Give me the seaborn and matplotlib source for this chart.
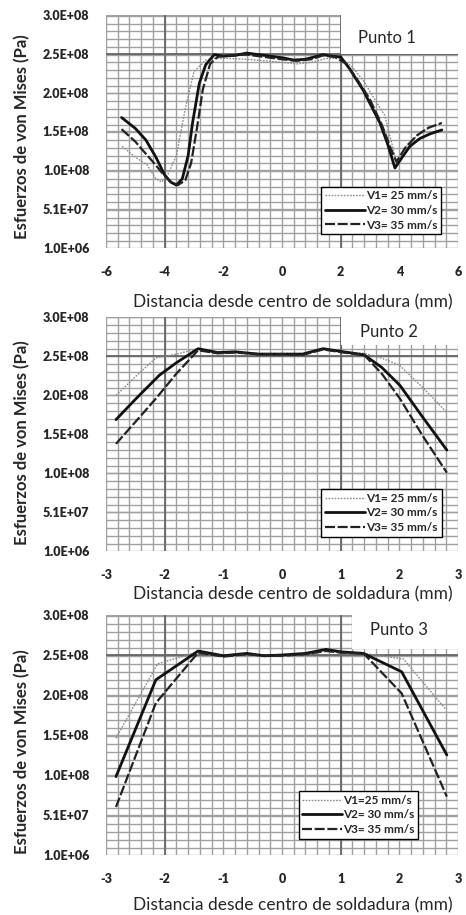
import numpy as np
import pandas as pd
import matplotlib
matplotlib.use("Agg")
import matplotlib.pyplot as plt
from matplotlib.ticker import MultipleLocator, FuncFormatter
from matplotlib.patches import Rectangle
import seaborn as sns

sns.set_style("white")
plt.rcParams["font.family"] = ["Lato", "DejaVu Sans"]
plt.rcParams["axes.unicode_minus"] = False

SERIES = ["V1", "V2", "V3"]

# ---- Punto 1 (Pa) ----
p1_v1_x = [-5.45, -5.0, -4.6, -4.3, -4.1, -3.9, -3.6, -3.3, -3.0, -2.6, -2.3, -1.8, -1.2, -0.6,
           0.0, 0.5, 1.0, 1.5, 2.0, 2.4, 2.8, 3.2, 3.5, 3.9, 4.3, 4.8, 5.45]
p1_v1_y = [1.32e8, 1.18e8, 1.08e8, 0.90e8, 0.86e8, 0.95e8, 1.20e8, 1.80e8, 2.28e8, 2.43e8, 2.45e8,
           2.45e8, 2.44e8, 2.42e8, 2.40e8, 2.38e8, 2.40e8, 2.45e8, 2.45e8, 2.34e8, 2.15e8, 1.90e8,
           1.72e8, 1.12e8, 1.35e8, 1.52e8, 1.62e8]
p1_v2_x = [-5.47, -5.0, -4.64, -4.3, -4.0, -3.8, -3.6, -3.4, -3.2, -3.05, -2.82, -2.6, -2.31, -2.0,
           -1.6, -1.2, -0.8, -0.4, 0.0, 0.4, 0.8, 1.1, 1.4, 1.7, 2.0, 2.3, 2.77, 3.34, 3.6, 3.85,
           4.1, 4.36, 4.7, 5.05, 5.45]
p1_v2_y = [1.69e8, 1.55e8, 1.40e8, 1.18e8, 0.95e8, 0.86e8, 0.82e8, 0.90e8, 1.20e8, 1.62e8, 2.13e8,
           2.37e8, 2.50e8, 2.48e8, 2.49e8, 2.52e8, 2.50e8, 2.48e8, 2.46e8, 2.43e8, 2.44e8, 2.47e8,
           2.50e8, 2.48e8, 2.47e8, 2.32e8, 2.04e8, 1.62e8, 1.35e8, 1.04e8, 1.18e8, 1.32e8, 1.42e8,
           1.48e8, 1.53e8]
p1_v3_x = [-5.47, -5.0, -4.75, -4.4, -4.07, -3.78, -3.55, -3.3, -3.1, -2.9, -2.7, -2.45, -2.2, -1.8,
           -1.2, -0.6, 0.0, 0.5, 1.0, 1.4, 1.8, 2.2, 2.6, 3.0, 3.4, 3.7, 3.9, 4.2, 4.6, 5.0, 5.45]
p1_v3_y = [1.54e8, 1.38e8, 1.27e8, 1.12e8, 0.97e8, 0.86e8, 0.82e8, 0.88e8, 1.10e8, 1.55e8, 2.05e8,
           2.38e8, 2.47e8, 2.49e8, 2.50e8, 2.47e8, 2.44e8, 2.42e8, 2.44e8, 2.49e8, 2.47e8, 2.38e8,
           2.16e8, 1.92e8, 1.60e8, 1.30e8, 1.12e8, 1.30e8, 1.46e8, 1.56e8, 1.62e8]

# ---- Punto 2 (Pa) ----
p2_v1_x = [-2.83, -2.5, -2.15, -1.8, -1.43, -1.1, -0.8, -0.4, 0.0, 0.35, 0.7, 1.05, 1.4, 1.7, 2.0, 2.4, 2.8]
p2_v1_y = [2.00e8, 2.24e8, 2.48e8, 2.53e8, 2.60e8, 2.56e8, 2.56e8, 2.54e8, 2.54e8, 2.54e8, 2.59e8,
           2.56e8, 2.54e8, 2.48e8, 2.39e8, 2.10e8, 1.79e8]
p2_v2_x = [-2.83, -2.5, -2.09, -1.8, -1.43, -1.1, -0.8, -0.4, 0.0, 0.35, 0.7, 1.05, 1.4, 1.7, 2.01, 2.4, 2.81]
p2_v2_y = [1.69e8, 1.95e8, 2.26e8, 2.42e8, 2.60e8, 2.55e8, 2.56e8, 2.53e8, 2.53e8, 2.53e8, 2.60e8,
           2.56e8, 2.52e8, 2.36e8, 2.13e8, 1.72e8, 1.30e8]
p2_v3_x = [-2.83, -2.5, -2.15, -1.8, -1.43, -1.1, -0.8, -0.4, 0.0, 0.35, 0.7, 1.05, 1.4, 1.7, 2.01, 2.4, 2.81]
p2_v3_y = [1.38e8, 1.66e8, 1.96e8, 2.28e8, 2.58e8, 2.54e8, 2.55e8, 2.53e8, 2.53e8, 2.52e8, 2.59e8,
           2.55e8, 2.52e8, 2.28e8, 1.96e8, 1.48e8, 1.01e8]

# ---- Punto 3 (Pa) ----
p3_v1_x = [-2.83, -2.12, -1.43, -1.0, -0.6, -0.3, 0.0, 0.4, 0.75, 1.0, 1.39, 2.07, 2.78]
p3_v1_y = [1.47e8, 2.40e8, 2.55e8, 2.51e8, 2.52e8, 2.51e8, 2.51e8, 2.52e8, 2.57e8, 2.54e8, 2.53e8,
           2.46e8, 1.84e8]
p3_v2_x = [-2.83, -2.15, -1.43, -1.0, -0.6, -0.3, 0.0, 0.4, 0.75, 1.0, 1.39, 2.04, 2.81]
p3_v2_y = [0.99e8, 2.20e8, 2.56e8, 2.50e8, 2.53e8, 2.50e8, 2.51e8, 2.53e8, 2.58e8, 2.55e8, 2.53e8,
           2.30e8, 1.26e8]
p3_v3_x = [-2.83, -2.15, -1.43, -1.0, -0.6, -0.3, 0.0, 0.4, 0.75, 1.0, 1.39, 2.04, 2.81]
p3_v3_y = [0.61e8, 1.91e8, 2.54e8, 2.49e8, 2.52e8, 2.50e8, 2.50e8, 2.52e8, 2.56e8, 2.54e8, 2.53e8,
           2.03e8, 0.74e8]

legend_labels_12 = ["V1= 25 mm/s", "V2= 30 mm/s", "V3= 35 mm/s"]
legend_labels_3 = ["V1=25 mm/s", "V2= 30 mm/s", "V3= 35 mm/s"]
y_ticks = [1.0e6, 5.1e7, 1.01e8, 1.51e8, 2.01e8, 2.51e8, 3.01e8]

palette = {"V1": "#8a8a8a", "V2": "#111111", "V3": "#222222"}
dashes = {"V1": (1.2, 1.0), "V2": "", "V3": (4.5, 1.2)}
sizes = {"V1": 1.0, "V2": 2.0, "V3": 1.6}


def frame(xs, ys):
    rows = []
    for name, x, y in zip(SERIES, xs, ys):
        rows.append(pd.DataFrame({"x": x, "y": y, "serie": name, "orden": np.arange(len(x))}))
    return pd.concat(rows, ignore_index=True)


W, H = 466, 915
fig = plt.figure(figsize=(W / 100, H / 100), dpi=100)

panels = [
    dict(xs=[p1_v1_x, p1_v2_x, p1_v3_x], ys=[p1_v1_y, p1_v2_y, p1_v3_y], lim=(-6, 6), major=2,
         top=15, bottom=248, title="Punto 1", tpos=(387, 38), dark=(-4, 2),
         blank=(2, 2.51e8), leg=(317, 182, 445, 239), labels=legend_labels_12, xl_off=54, yl=0.48),
    dict(xs=[p2_v1_x, p2_v2_x, p2_v3_x], ys=[p2_v1_y, p2_v2_y, p2_v3_y], lim=(-3, 3), major=1,
         top=316.7, bottom=550.7, title="Punto 2", tpos=(389, 332), dark=(-2, 1),
         blank=(1, 2.65e8), leg=(317, 483, 446, 543), labels=legend_labels_12, xl_off=44, yl=0.46),
    dict(xs=[p3_v1_x, p3_v2_x, p3_v3_x], ys=[p3_v1_y, p3_v2_y, p3_v3_y], lim=(-3, 3), major=1,
         top=615, bottom=855, title="Punto 3", tpos=(399, 630), dark=(-2, 1),
         blank=(1.2, 2.58e8), leg=(295, 785, 422, 845), labels=legend_labels_3, xl_off=50, yl=0.43),
]

left_px, right_px = 106, 458
for p in panels:
    ax = fig.add_axes([left_px / W, 1 - p["bottom"] / H, (right_px - left_px) / W,
                       (p["bottom"] - p["top"]) / H])
    ax.patch.set_visible(False)
    df = frame(p["xs"], p["ys"])
    sns.lineplot(data=df, x="x", y="y", hue="serie", style="serie", size="serie",
                 palette=palette, dashes=dashes, sizes=sizes, sort=False, estimator=None,
                 units="serie", legend=False, ax=ax, zorder=5)
    series_lines = list(ax.get_lines())

    ax.set_xlim(*p["lim"])
    ax.set_ylim(1.0e6, 3.01e8)
    ax.xaxis.set_major_locator(MultipleLocator(p["major"]))
    ax.xaxis.set_minor_locator(MultipleLocator(p["major"] / 5))
    ax.set_yticks(y_ticks)
    ax.yaxis.set_minor_locator(MultipleLocator(1.0e7))
    ax.yaxis.set_major_formatter(FuncFormatter(lambda v, _: format(v, ".1E")))
    ax.xaxis.set_major_formatter(FuncFormatter(lambda v, _: f"{v:g}"))
    ax.grid(which="both", color="#a0a0a0", linewidth=1.0, zorder=0)
    ax.set_axisbelow(True)
    for s in ax.spines.values():
        s.set_visible(False)
    ax.tick_params(which="both", length=0)
    ax.tick_params(axis="x", pad=13, labelsize=9)
    ax.tick_params(axis="y", pad=12, labelsize=9)
    for lab in ax.get_xticklabels() + ax.get_yticklabels():
        lab.set_fontweight("heavy")

    # darker reference lines
    for xv in p["dark"]:
        ax.axvline(xv, color="#666666", linewidth=1.3, zorder=1)
    ax.axhline(2.51e8, color="#666666", linewidth=1.3, zorder=1)

    # white area behind the panel title, kept inside the plot area
    bx, by = p["blank"]
    ax.add_patch(Rectangle((bx, by), p["lim"][1] - bx + 0.2, 3.02e8 - by, facecolor="white",
                           edgecolor="none", zorder=2, clip_on=False))

    ax.set_xlabel("Distancia desde centro de soldadura (mm)", fontsize=12.5)
    ax.xaxis.set_label_coords((293 - left_px) / (right_px - left_px),
                              -p["xl_off"] / (p["bottom"] - p["top"]))
    ax.xaxis.label.set_va("center")
    ax.set_ylabel("Esfuerzos de von Mises (Pa)", fontsize=12, fontweight="bold")
    ax.yaxis.set_label_coords((22 - left_px) / (right_px - left_px), p["yl"])
    ax.yaxis.label.set_va("center")

    fig.text(p["tpos"][0] / W, 1 - p["tpos"][1] / H, p["title"], fontsize=12,
             ha="center", va="center")

    lx0, ly0, lx1, ly1 = p["leg"]
    leg = ax.legend(series_lines, p["labels"], loc="center",
                    bbox_to_anchor=(((lx0 + lx1) / 2 - left_px) / (right_px - left_px),
                                    (p["bottom"] - (ly0 + ly1) / 2) / (p["bottom"] - p["top"])),
                    frameon=True, fancybox=False, framealpha=1, edgecolor="black",
                    prop={"weight": "bold", "size": 8.5}, handlelength=3.4, handletextpad=0.1,
                    labelspacing=0.3, borderpad=0.3, borderaxespad=0)
    leg.get_frame().set_linewidth(1.0)
    leg.set_zorder(10)

fig.savefig("out.png", dpi=100, facecolor="white")
